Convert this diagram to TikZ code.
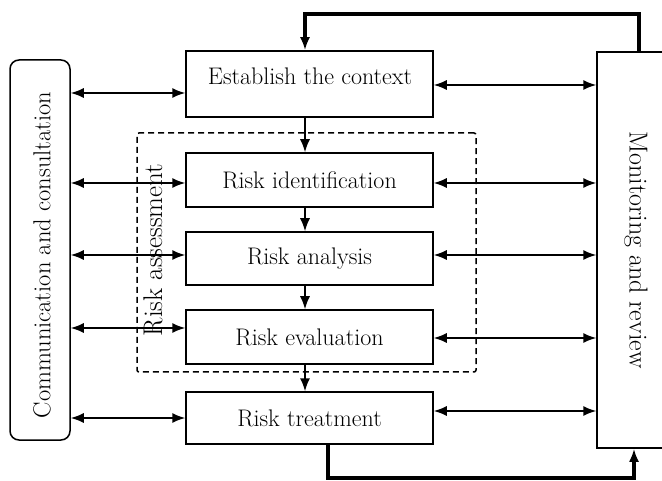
\documentclass[tikz,border=0pt]{standalone}
\usepackage{tikz}
\usetikzlibrary{arrows.meta,positioning}

\tikzset{
  stepbox/.style={draw, line width=1.5pt, minimum width=247pt, inner sep=0pt},
  dbl/.style={<->, line width=1.5pt},
  flow/.style={->, line width=1.5pt},
  loopline/.style={->, line width=3.2pt},
}

\begin{document}
\begin{tikzpicture}[x=1pt, y=-1pt, >={Latex[length=13pt,width=10pt]},
    every node/.style={font=\fontsize{24}{28}\selectfont}]
    \useasboundingbox (0,0) rectangle (662,481);
    \clip (0,0) rectangle (662,481);

    % Side boxes
    \node[draw, line width=1.5pt, rounded corners=9pt, minimum width=60pt, minimum height=380pt] (comm) at (40,250) {};
    \node[rotate=90, font=\fontsize{24.5}{28}\selectfont] (commtext) at (42,255) {Communication and consultation};
    \node[draw, line width=1.5pt, minimum width=100pt, minimum height=396pt] (mon) at (647,250) {};
    \node[rotate=-90, font=\fontsize{26}{30}\selectfont] (montext) at (636,250) {Monitoring and review};

    % Process steps
    \node[stepbox, minimum height=66pt] (est) at (309.5,84) {};
    \node (esttext) at (310,76) {Establish the context};
    \node[stepbox, minimum height=54pt] (id) at (309.5,180) {Risk identification};
    \node[stepbox, minimum height=53pt] (ana) at (309.5,258.5) {Risk analysis};
    \node[stepbox, minimum height=54pt] (eval) at (309.5,337) {Risk evaluation};
    \node[stepbox, minimum height=52pt] (treat) at (309.5,418) {Risk treatment};

    % Risk assessment frame
    \node[draw, dashed, line width=1.5pt, dash pattern=on 6pt off 4pt, rounded corners=2pt,
          minimum width=339pt, minimum height=239pt] (assess) at (306.5,252.5) {};
    \node[rotate=90, font=\fontsize{27}{30}\selectfont] (assesstext) at (153,250) {Risk assessment};

    % Flow down the steps
    \coordinate (spine) at (305,0);
    \draw[flow] (spine |- est.south) -- (spine |- id.north);
    \draw[flow] (spine |- id.south) -- (spine |- ana.north);
    \draw[flow] (spine |- ana.south) -- (spine |- eval.north);
    \draw[flow] (spine |- eval.south) -- (spine |- treat.north);

    % Links to communication and to monitoring
    \foreach \n/\l/\r in {est/-9/-1, id/-3/-3, ana/3.5/3.5, eval/9/-1, treat/0/7} {
      \draw[dbl] (\n.west) ++(0,-\l) coordinate (L) -- (L -| comm.east);
      \draw[dbl] (\n.east) ++(0,-\r) coordinate (R) -- (R -| mon.west);
    }

    % Feedback loops
    \coordinate (topR) at (639,14);
    \coordinate (topL) at (305,14);
    \draw[loopline] (topR |- mon.north) -- (topR) -- (topL) -- (topL |- est.north);
    \coordinate (botL) at (328,478);
    \coordinate (botR) at (634,478);
    \draw[loopline] (botL |- treat.south) -- (botL) -- (botR) -- (botR |- mon.south);
\end{tikzpicture}
\end{document}
